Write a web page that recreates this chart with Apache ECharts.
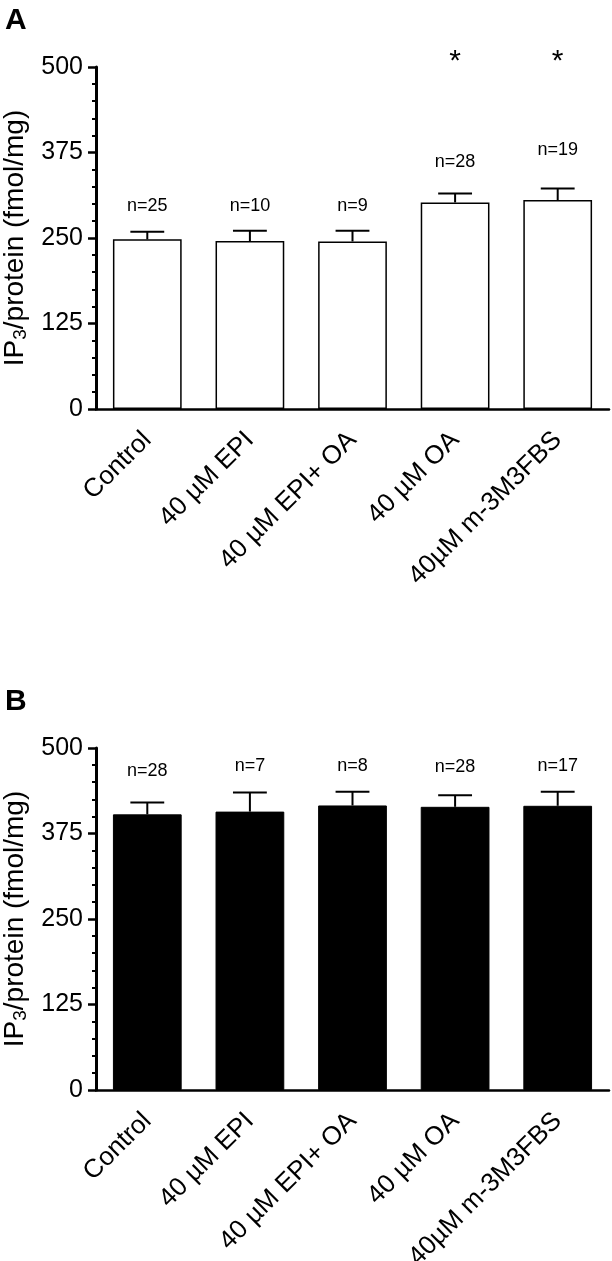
<!DOCTYPE html>
<html>
<head>
<meta charset="utf-8">
<script src="https://cdn.jsdelivr.net/npm/echarts@6/dist/echarts.min.js"></script>
<style>
html,body{margin:0;padding:0;background:#fff;}
#c{width:612px;height:1261px;}
</style>
</head>
<body>
<div id="c"></div>
<script>
// ---- data ----
var categories = ['Control', '40 µM EPI', '40 µM EPI+ OA', '40 µM OA', '40µM m-3M3FBS'];
var yTicks = [0, 125, 250, 375, 500];

// Panel A (white bars)
var meanA = [248, 245.5, 245, 302, 305.5];
var semA  = [11, 15, 15.5, 13, 17];
var nA    = ['n=25', 'n=10', 'n=9', 'n=28', 'n=19'];
var nLevelA = [297, 297, 297, 361, 379];
var starA = ['', '', '', '*', '*'];
var starLevelA = [508, 508, 508, 508, 508];

// Panel B (black bars)
var meanB = [403, 407, 416, 414, 415.5];
var semB  = [17.5, 28, 20, 17, 20.5];
var nB    = ['n=28', 'n=7', 'n=8', 'n=28', 'n=17'];
var nLevelB = [466, 473, 473, 472, 474];

// ---- chart ----
var FONT = '"Liberation Sans", Arial, sans-serif';
var chart = echarts.init(document.getElementById('c'), null, {renderer: 'canvas'});

function xAxisCfg(gi) {
  return {
    type: 'category', gridIndex: gi, data: categories,
    axisLine: {lineStyle: {color: '#000', width: 2.5}},
    axisTick: {alignWithLabel: true, length: 8, lineStyle: {color: '#000', width: 2.5}},
    axisLabel: {rotate: 45, interval: 0, margin: 27, color: '#000', fontSize: 26, fontFamily: FONT}
  };
}
function yAxisCfg(gi) {
  return {
    type: 'value', gridIndex: gi, min: yTicks[0], max: yTicks[yTicks.length - 1], interval: 125,
    name: '{a|IP}{b|3}{a|/protein (fmol/mg)}',
    nameLocation: 'middle', nameGap: 64, nameRotate: 90,
    nameTextStyle: {
      color: '#000', fontFamily: FONT,
      rich: {
        a: {fontSize: 28, fontFamily: FONT, color: '#000', lineHeight: 30},
        b: {fontSize: 19, fontFamily: FONT, color: '#000', lineHeight: 12, verticalAlign: 'bottom'}
      }
    },
    axisLine: {show: true, lineStyle: {color: '#000', width: 3}},
    axisTick: {show: true, length: 8, lineStyle: {color: '#000', width: 2.5}},
    minorTick: {show: true, splitNumber: 5, length: 4, lineStyle: {color: '#000', width: 2}},
    splitLine: {show: false},
    axisLabel: {margin: 13, color: '#000', fontSize: 25, fontFamily: FONT}
  };
}

function errorSeries(gi, mean, sem) {
  return {
    type: 'custom', xAxisIndex: gi, yAxisIndex: gi, z: 5,
    data: mean.map(function (m, i) { return [i, m, m + sem[i]]; }),
    renderItem: function (params, api) {
      var i = api.value(0);
      var p0 = api.coord([i, api.value(1)]);
      var p1 = api.coord([i, api.value(2)]);
      var half = api.size([1, 0])[0] * 0.165;
      var st = {stroke: '#000', lineWidth: 2};
      return {
        type: 'group',
        children: [
          {type: 'line', shape: {x1: p0[0], y1: p0[1], x2: p1[0], y2: p1[1]}, style: st},
          {type: 'line', shape: {x1: p1[0] - half, y1: p1[1], x2: p1[0] + half, y2: p1[1]}, style: st}
        ]
      };
    }
  };
}

function textSeries(gi, texts, levels, size) {
  return {
    type: 'custom', xAxisIndex: gi, yAxisIndex: gi, z: 6, clip: false,
    data: texts.map(function (t, i) { return [i, levels[i], t]; }),
    renderItem: function (params, api) {
      var p = api.coord([api.value(0), api.value(1)]);
      return {
        type: 'text',
        style: {
          text: texts[params.dataIndex], x: p[0], y: p[1],
          fill: '#000', fontSize: size, fontFamily: FONT,
          align: 'center', verticalAlign: 'middle'
        }
      };
    }
  };
}

chart.setOption({
  backgroundColor: '#fff',
  animation: false,
  title: [
    {text: 'A', left: 0, top: 1, textStyle: {fontSize: 30, fontWeight: 'bold', color: '#000', fontFamily: FONT}},
    {text: 'B', left: 0, top: 682, textStyle: {fontSize: 30, fontWeight: 'bold', color: '#000', fontFamily: FONT}}
  ],
  grid: [
    {left: 96, right: 3, top: 67, height: 342, outerBoundsMode: 'none', containLabel: false},
    {left: 96, right: 3, top: 748, height: 342, outerBoundsMode: 'none', containLabel: false}
  ],
  xAxis: [xAxisCfg(0), xAxisCfg(1)],
  yAxis: [yAxisCfg(0), yAxisCfg(1)],
  series: [
    {
      type: 'bar', xAxisIndex: 0, yAxisIndex: 0, data: meanA, barWidth: '67%',
      itemStyle: {color: '#fff', borderColor: '#000', borderWidth: 1.5}
    },
    errorSeries(0, meanA, semA),
    textSeries(0, nA, nLevelA, 18),
    textSeries(0, starA, starLevelA, 30),
    {
      type: 'bar', xAxisIndex: 1, yAxisIndex: 1, data: meanB, barWidth: '67%',
      itemStyle: {color: '#000', borderColor: '#000', borderWidth: 1}
    },
    errorSeries(1, meanB, semB),
    textSeries(1, nB, nLevelB, 18)
  ]
});
</script>
</body>
</html>
